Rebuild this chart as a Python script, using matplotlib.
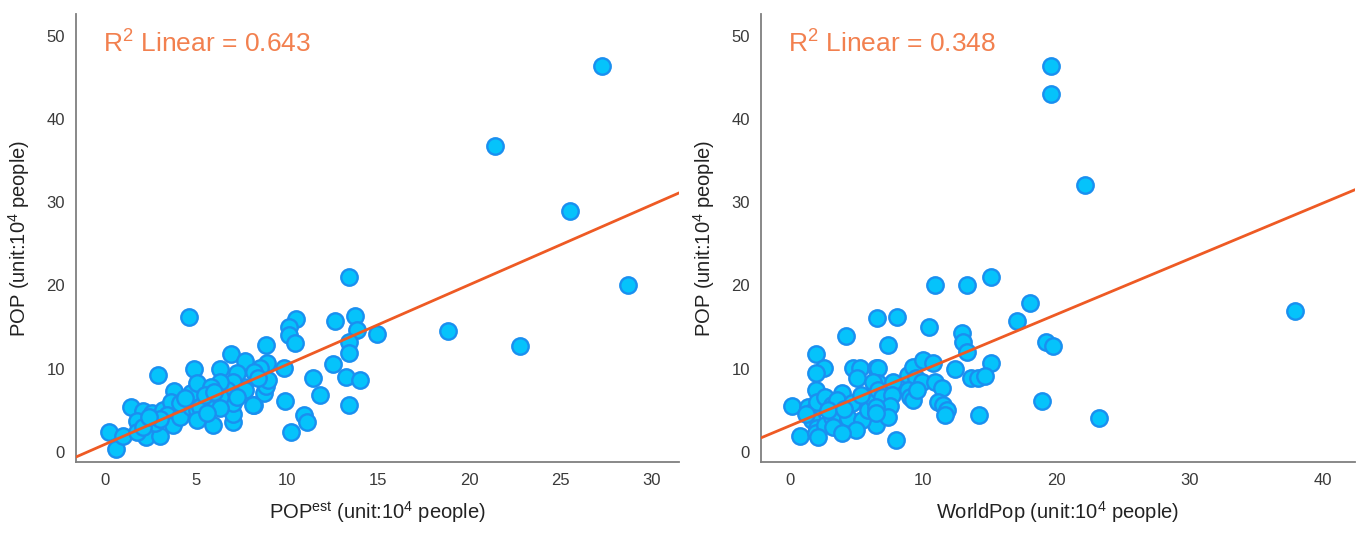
import numpy as np
import matplotlib
matplotlib.use("Agg")
import matplotlib.pyplot as plt

# left panel: POPest vs POP
pop_est = [27.3, 21.4, 25.5, 28.7, 18.8, 22.8, 13.4, 14.9, 13.7, 13.8,
           12.6, 13.4, 13.4, 12.5, 13.2, 14.0, 13.4, 11.4, 11.8, 10.9,
           11.1, 10.2, 9.9, 9.8, 10.5, 10.1, 10.1, 10.4, 8.85, 4.6,
           2.9, 6.9, 7.7, 4.9, 6.3, 0.2, 0.6, 1.0, 1.4, 2.25,
           3.0, 5.9, 7.0, 7.0, 8.2, 8.7, 8.85, 7.0, 7.6, 3.8,
           2.1, 1.76, 1.76, 2.6, 3.2, 3.6, 3.4, 2.75, 3.7, 4.1,
           4.7, 4.7, 5.05, 5.05, 4.1, 2.1, 8.9, 8.5, 8.2, 7.25,
           7.0, 7.7, 6.7, 6.3, 5.8, 5.8, 6.3, 7.25, 8.95, 8.4,
           5.2, 6.3, 8.1, 5.05, 5.5, 6.0, 4.4, 3.0, 2.4, 5.6]
pop_left = [46.3, 36.7, 29.0, 20.1, 14.5, 12.7, 21.0, 14.2, 16.3, 14.7,
            15.7, 13.2, 11.9, 10.6, 9.0, 8.7, 5.6, 8.9, 6.9, 4.4,
            3.6, 2.4, 6.1, 10.1, 16.0, 15.0, 14.0, 13.1, 12.9, 16.2,
            9.3, 11.8, 10.9, 10.0, 10.0, 2.4, 0.4, 1.9, 5.4, 1.8,
            1.9, 3.2, 3.6, 4.6, 5.6, 7.1, 7.9, 5.9, 7.8, 7.3,
            4.9, 3.7, 2.4, 4.7, 5.0, 6.0, 4.4, 3.5, 3.2, 4.2,
            5.4, 7.1, 8.3, 5.0, 5.9, 3.0, 10.7, 10.1, 9.6, 9.5,
            8.4, 7.5, 7.5, 8.4, 7.8, 6.25, 6.6, 6.6, 8.65, 8.9,
            5.4, 5.3, 5.65, 3.85, 6.8, 7.2, 6.5, 4.0, 4.2, 4.7]

# right panel: WorldPop vs POP
worldpop = [19.6, 19.6, 22.1, 37.9, 23.2, 18.9, 19.2, 19.7, 18.0, 17.0,
            15.1, 10.9, 13.3, 12.9, 13.0, 13.3, 15.1, 12.4, 13.6, 14.1,
            14.6, 14.2, 8.0, 6.5, 10.4, 7.3, 4.2, 1.95, 7.9, 0.15,
            0.75, 6.4, 2.5, 1.9, 4.7, 5.2, 5.0, 6.4, 6.6, 1.9,
            1.3, 1.65, 2.0, 2.6, 3.1, 3.9, 3.5, 4.6, 1.65, 2.0,
            1.9, 2.6, 3.1, 3.2, 4.3, 5.4, 4.9, 5.8, 6.2, 6.4,
            2.1, 3.9, 6.6, 6.2, 8.8, 9.2, 10.0, 10.7, 9.4, 9.9,
            6.6, 6.9, 7.7, 7.6, 7.5, 7.3, 8.85, 9.0, 9.2, 9.5,
            10.9, 11.4, 11.1, 11.5, 11.8, 11.6, 6.4, 6.4, 2.8, 4.0,
            5.3, 1.2]
pop_right = [46.3, 43.0, 32.1, 16.9, 4.1, 6.1, 13.2, 12.7, 17.9, 15.7,
             21.0, 20.1, 20.1, 14.3, 13.2, 12.0, 10.7, 10.0, 8.9, 8.9,
             9.1, 4.4, 16.2, 16.1, 15.0, 12.9, 13.9, 11.8, 1.4, 5.5,
             1.9, 3.2, 10.1, 9.5, 10.1, 10.1, 8.9, 10.1, 10.1, 7.5,
             5.4, 4.8, 6.0, 6.6, 5.6, 7.1, 6.25, 5.9, 3.85, 2.9,
             2.3, 3.2, 4.2, 3.0, 4.1, 3.85, 2.6, 5.0, 6.5, 4.8,
             1.8, 2.3, 8.3, 8.4, 9.3, 10.2, 11.1, 10.7, 8.9, 8.4,
             7.5, 6.6, 8.4, 6.85, 5.5, 4.2, 7.45, 6.6, 6.25, 7.45,
             8.4, 7.7, 6.0, 5.65, 5.0, 4.4, 5.4, 4.7, 5.0, 5.2,
             6.8, 4.6]

# fit lines (intercept, slope) and R2 values
fit_left = (0.93, 0.958)
fit_right = (3.17, 0.668)
r2_left = "0.643"
r2_right = "0.348"

plt.rcParams['font.family'] = ['Liberation Sans', 'DejaVu Sans']

fig = plt.figure(figsize=(13.59, 5.38), dpi=100)
ax1 = fig.add_axes([0.0559, 0.1413, 0.4437, 0.8327])
ax2 = fig.add_axes([0.56, 0.1413, 0.437, 0.8327])

panels = [
    (ax1, pop_est, pop_left, fit_left, r2_left, (-1.6, 31.5), range(0, 31, 5),
     'POP$^{\\mathregular{est}}$ (unit:10$^{\\mathregular{4}}$ people)'),
    (ax2, worldpop, pop_right, fit_right, r2_right, (-2.2, 42.4), range(0, 41, 10),
     'WorldPop (unit:10$^{\\mathregular{4}}$ people)'),
]

for ax, xs, ys, fit, r2, xlim, xt, xlabel in panels:
    ax.set_xlim(*xlim)
    ax.set_ylim(-1.2, 52.6)
    lx = np.array(xlim)
    ax.plot(lx, fit[0] + fit[1] * lx, color='#EE5A24', lw=2.0, zorder=3)
    ax.scatter(xs, ys, s=140, facecolor='#05C3FB', edgecolor='#1A8FF0',
               linewidths=1.7, zorder=2)
    ax.set_xticks(list(xt))
    ax.set_yticks(range(0, 51, 10))
    ax.tick_params(length=0, labelsize=12, colors='#3a3a3a', pad=8)
    for s in ['top', 'right']:
        ax.spines[s].set_visible(False)
    for s in ['left', 'bottom']:
        ax.spines[s].set_color('#7f7f7f')
        ax.spines[s].set_linewidth(1.3)
    ax.text(0.045, 0.935, 'R$^{\\mathregular{2}}$ Linear = ' + r2,
            transform=ax.transAxes, color='#F2804F', fontsize=19,
            va='center', ha='left')
    ax.set_xlabel(xlabel, fontsize=14.5, color='#222222', labelpad=8)
    ax.set_ylabel('POP (unit:10$^{\\mathregular{4}}$ people)', fontsize=14.5,
                  color='#222222', labelpad=10)

fig.savefig('out.png', dpi=100)
